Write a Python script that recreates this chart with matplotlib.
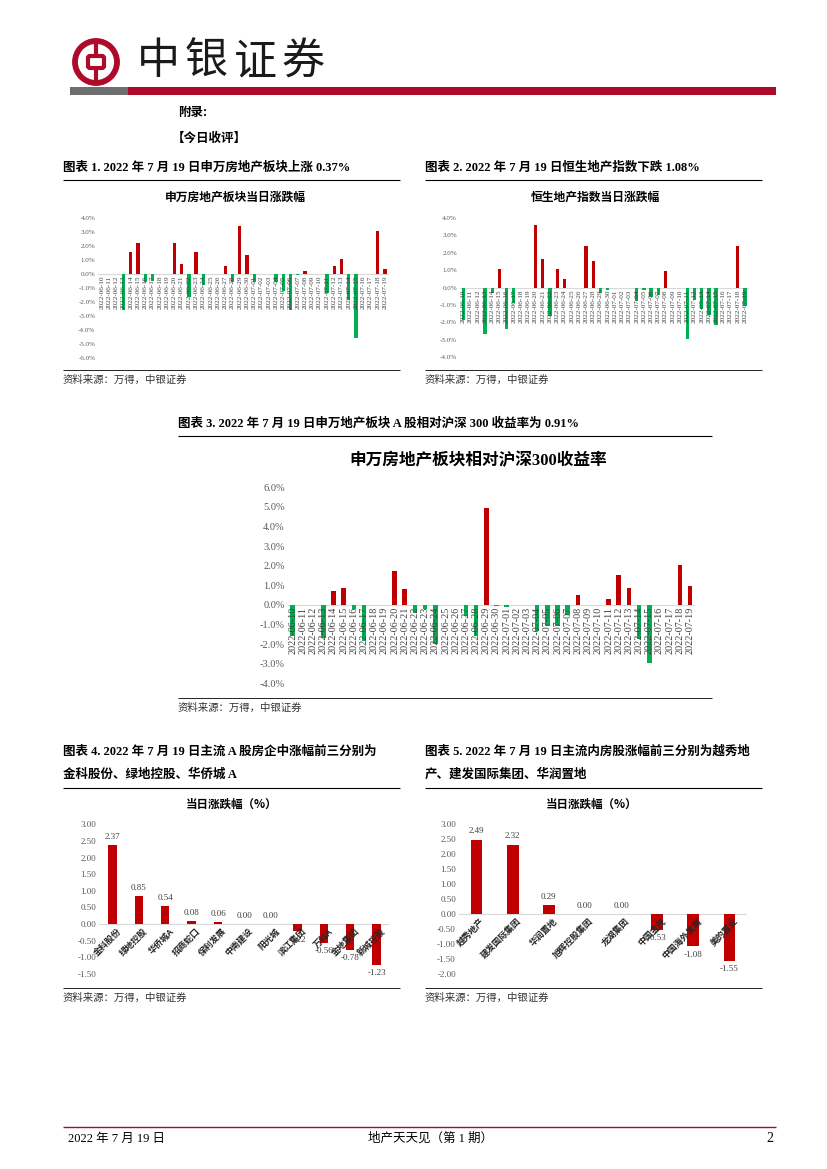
import matplotlib
matplotlib.use("Agg")
import matplotlib.pyplot as plt
from matplotlib.patches import Circle, FancyBboxPatch, Rectangle

plt.rcParams['font.family'] = ['Noto Sans CJK SC', 'DejaVu Sans']

W, H = 827, 1169
RED = "#C00000"
GREEN = "#00B050"
BRAND = "#AE0A2A"
GRID = "#D9D9D9"
TICK = "#595959"
CJK = ['Noto Sans CJK SC', 'DejaVu Sans']
MIX = ['Liberation Serif', 'Noto Sans CJK SC']
SERIF = ['Liberation Serif', 'DejaVu Serif']

# ---- data ----
dates = ["2022-06-10", "2022-06-11", "2022-06-12", "2022-06-13", "2022-06-14", "2022-06-15",
         "2022-06-16", "2022-06-17", "2022-06-18", "2022-06-19", "2022-06-20", "2022-06-21",
         "2022-06-22", "2022-06-23", "2022-06-24", "2022-06-25", "2022-06-26", "2022-06-27",
         "2022-06-28", "2022-06-29", "2022-06-30", "2022-07-01", "2022-07-02", "2022-07-03",
         "2022-07-04", "2022-07-05", "2022-07-06", "2022-07-07", "2022-07-08", "2022-07-09",
         "2022-07-10", "2022-07-11", "2022-07-12", "2022-07-13", "2022-07-14", "2022-07-15",
         "2022-07-16", "2022-07-17", "2022-07-18", "2022-07-19"]

sw_sector = [0.02, 0, 0, -2.55, 1.54, 2.18, -0.60, -0.50, 0, 0,
             2.20, 0.71, -1.62, 1.59, -0.82, 0, 0, 0.55, -0.55, 3.40,
             1.37, -0.55, 0, 0, -0.55, -1.20, -2.55, -0.05, 0.18, 0,
             0, -1.40, 0.59, 1.05, -1.85, -4.60, 0, 0, 3.03, 0.37]

hs_property = [-1.85, 0, 0, -2.65, -0.34, 1.04, -2.40, -0.87, 0, 0,
               3.58, 1.62, -1.63, 1.05, 0.48, 0, 0, 2.36, 1.50, -0.29,
               -0.13, 0, 0, 0, -0.78, -0.14, -0.52, -0.44, 0.96, 0,
               0, -2.93, -0.73, -1.25, -1.60, -2.16, 0, 0, 2.37, -1.08]

rel_hs300 = [-1.60, 0, 0, -1.70, 0.72, 0.87, -0.20, -1.85, 0, 0,
             1.75, 0.81, -0.40, -0.20, -2.00, 0, 0, -0.55, -1.60, 4.95,
             -0.05, -0.10, 0, 0, -1.35, -1.10, -1.10, -0.50, 0.52, 0,
             0, 0.30, 1.55, 0.87, -1.75, -2.95, 0, 0, 2.05, 0.94]

a_names = ["金科股份", "绿地控股", "华侨城A", "招商蛇口", "保利发展", "中南建设",
           "阳光城", "滨江集团", "万科A", "金地集团", "新城控股"]
a_chg = [2.37, 0.85, 0.54, 0.08, 0.06, 0.00, 0.00, -0.22, -0.56, -0.78, -1.23]

hk_names = ["越秀地产", "建发国际集团", "华润置地", "旭辉控股集团", "龙湖集团",
            "中国金茂", "中国海外发展", "美的置业"]
hk_chg = [2.49, 2.32, 0.29, 0.00, 0.00, -0.53, -1.08, -1.55]

fig = plt.figure(figsize=(W / 100, H / 100), dpi=100, facecolor="white")
page = fig.add_axes([0, 0, 1, 1])
page.set_xlim(0, W); page.set_ylim(H, 0); page.axis("off")


def px_axes(left, top, right, bottom):
    return fig.add_axes([left / W, 1 - bottom / H, (right - left) / W, (bottom - top) / H])


def hline(x0, x1, y, color="black", lw=0.8):
    page.plot([x0, x1], [y, y], color=color, lw=lw, solid_capstyle="butt")


# ---- header / logo ----
page.add_patch(Circle((96, 62), 21, facecolor="none", edgecolor=BRAND, lw=4.2))
page.add_patch(FancyBboxPatch((88, 56), 16, 12, boxstyle="round,pad=0,rounding_size=2",
                              facecolor="none", edgecolor=BRAND, lw=3))
page.plot([96, 96], [41, 55], color=BRAND, lw=3, solid_capstyle="butt")
page.plot([96, 96], [69, 83], color=BRAND, lw=3, solid_capstyle="butt")
for i, ch in enumerate("中银证券"):
    page.text(158 + i * 48.5, 62, ch, fontsize=31, family=CJK, ha="center", va="center",
              color="#1A1A1A")
page.add_patch(Rectangle((70, 87), 58, 8, color="#6E6E6E", lw=0))
page.add_patch(Rectangle((128, 87), 648, 8, color=BRAND, lw=0))

page.text(178, 112, "附录:", fontsize=9, family=CJK, weight="bold", va="center")
page.text(172, 138, "【今日收评】", fontsize=9, family=CJK, weight="bold", va="center")


def fig_title(x, y, s, x1, line_y):
    page.text(x, y, s, fontsize=9, family=MIX, weight="bold", va="center")
    hline(x, x1, line_y)


def source(x, y, x1):
    hline(x, x1, y - 10, lw=0.6)
    page.text(x, y, "资料来源：万得，中银证券", fontsize=7.5, family=CJK, va="center",
              color="#333333", style="italic")


fig_title(63, 168, "图表 1. 2022 年 7 月 19 日申万房地产板块上涨 0.37%", 400, 180)
fig_title(425, 168, "图表 2. 2022 年 7 月 19 日恒生地产指数下跌 1.08%", 762, 180)
source(63, 380, 400)
source(425, 380, 762)

fig_title(178, 424, "图表 3. 2022 年 7 月 19 日申万地产板块 A 股相对沪深 300 收益率为 0.91%", 712, 436)
source(178, 708, 712)

page.text(63, 752, "图表 4. 2022 年 7 月 19 日主流 A 股房企中涨幅前三分别为", fontsize=9,
          family=MIX, weight="bold", va="center")
fig_title(63, 775, "金科股份、绿地控股、华侨城 A", 400, 788)
page.text(425, 752, "图表 5. 2022 年 7 月 19 日主流内房股涨幅前三分别为越秀地", fontsize=9,
          family=MIX, weight="bold", va="center")
fig_title(425, 775, "产、建发国际集团、华润置地", 762, 788)
source(63, 998, 400)
source(425, 998, 762)

# footer
hline(63, 776, 1127, color=BRAND, lw=1.0)
page.text(68, 1139, "2022 年 7 月 19 日", fontsize=9, family=MIX, va="center")
page.text(430, 1139, "地产天天见（第 1 期）", fontsize=9, family=MIX, va="center", ha="center")
page.text(770, 1139, "2", fontsize=10, family=MIX, va="center", ha="center")


def daily_chart(vals, x_first, x_last, y_top, y_bot, ylim, yticks, tick_fs, date_fs,
                title, title_x, title_y, title_fs):
    n = len(vals)
    step = (x_last - x_first) / (n - 1)
    ax = px_axes(x_first - step / 2, y_top, x_last + step / 2, y_bot)
    cols = [RED if v > 0 else GREEN for v in vals]
    ax.bar(range(n), vals, width=0.45, color=cols, zorder=2)
    ax.axhline(0, color=GRID, lw=0.8, zorder=1)
    ax.set_xlim(-0.5, n - 0.5)
    ax.set_ylim(*ylim)
    ax.set_xticks([])
    ax.set_yticks(yticks)
    ax.set_yticklabels([f"{t:.1f}%" for t in yticks], fontsize=tick_fs, family=SERIF, color=TICK)
    ax.tick_params(length=0, pad=2)
    for s in ax.spines.values():
        s.set_visible(False)
    ax.patch.set_alpha(0)
    for i, d in enumerate(dates):
        ax.annotate(d, (i, 0), xytext=(0, -1.5), textcoords="offset points", rotation=90,
                    ha="center", va="top", fontsize=date_fs, family=SERIF, color="#404040",
                    zorder=3, annotation_clip=False)
    page.text(title_x, title_y, title, fontsize=title_fs, family=MIX, weight="bold",
              ha="center", va="center")
    return ax


daily_chart(sw_sector, 101.7, 385, 217.7, 358, (-6, 4), list(range(4, -7, -1)), 5, 5.2,
            "申万房地产板块当日涨跌幅", 235, 198, 8.5)
daily_chart(hs_property, 463.3, 745, 217.7, 357.3, (-4, 4), list(range(4, -5, -1)), 5, 5.2,
            "恒生地产指数当日涨跌幅", 595, 198, 8.5)
daily_chart(rel_hs300, 292.7, 690, 487.3, 683.3, (-4, 6), list(range(6, -5, -1)), 7.5, 7.3,
            "申万房地产板块相对沪深300收益率", 478, 461, 12)


def stock_chart(names, vals, x_first, x_last, y_top, y_bot, ylim, yticks, title_x):
    n = len(vals)
    step = (x_last - x_first) / (n - 1)
    ax = px_axes(x_first - step / 2, y_top, x_last + step / 2, y_bot)
    ax.bar(range(n), vals, width=0.32, color=RED, zorder=2)
    ax.axhline(0, color=GRID, lw=0.8, zorder=1)
    ax.set_xlim(-0.5, n - 0.5)
    ax.set_ylim(*ylim)
    ax.set_xticks([])
    ax.set_yticks(yticks)
    ax.set_yticklabels([f"{t:.2f}" for t in yticks], fontsize=6.5, family=SERIF, color=TICK)
    ax.tick_params(length=0, pad=2)
    for s in ax.spines.values():
        s.set_visible(False)
    ax.patch.set_alpha(0)
    for i, (nm, v) in enumerate(zip(names, vals)):
        ax.annotate(nm, (i, 0), xytext=(3, -2), textcoords="offset points", rotation=45,
                    rotation_mode="anchor", ha="right", va="top", fontsize=6.3, family=CJK,
                    weight="bold", color="#262626", zorder=3, annotation_clip=False)
        if v >= 0:
            ax.annotate(f"{v:.2f}", (i, v), xytext=(0, 3), textcoords="offset points",
                        ha="center", va="bottom", fontsize=6.5, family=SERIF, color="#404040")
        else:
            ax.annotate(f"{v:.2f}", (i, v), xytext=(0, -3), textcoords="offset points",
                        ha="center", va="top", fontsize=6.5, family=SERIF, color="#404040")
    page.text(title_x, 804, "当日涨跌幅（%）", fontsize=8.3, family=CJK, weight="bold",
              ha="center", va="center")
    return ax


stock_chart(a_names, a_chg, 112.3, 376.7, 824.3, 974, (-1.5, 3.0),
            [3.0, 2.5, 2.0, 1.5, 1.0, 0.5, 0.0, -0.5, -1.0, -1.5], 231.7)
stock_chart(hk_names, hk_chg, 476.7, 729.3, 824.3, 974, (-2.0, 3.0),
            [3.0, 2.5, 2.0, 1.5, 1.0, 0.5, 0.0, -0.5, -1.0, -1.5, -2.0], 591.7)

fig.savefig("out.png", dpi=100, facecolor="white")
